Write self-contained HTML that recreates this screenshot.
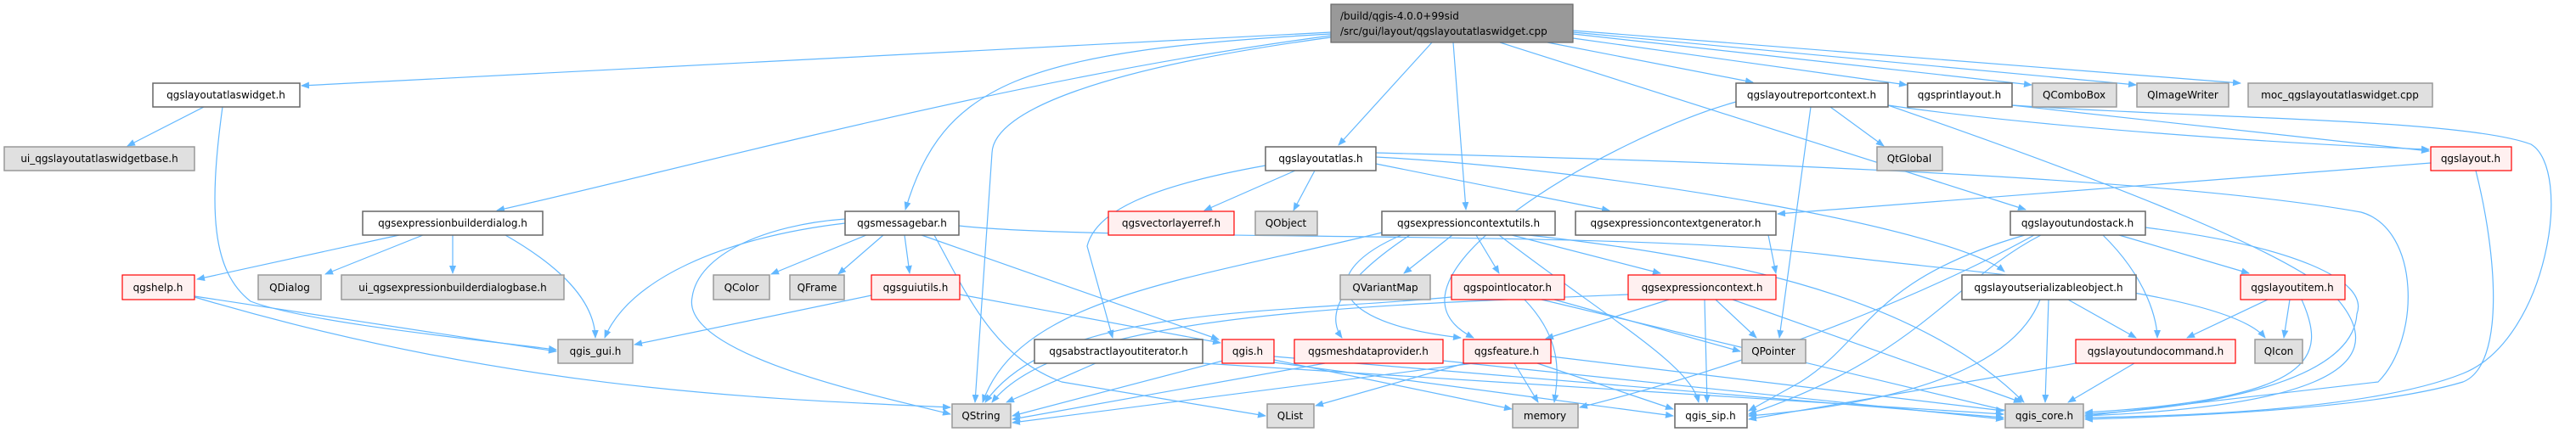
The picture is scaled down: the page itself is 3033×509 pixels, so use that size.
<!DOCTYPE html>
<html><head><meta charset="utf-8"><style>
html,body{margin:0;padding:0;background:#fff}
svg{display:block}
text{font-family:"DejaVu Sans","Liberation Sans",sans-serif;font-size:12px;fill:#000}
.w{fill:#fff;stroke:#666;stroke-width:1.5}
.g{fill:#e0e0e0;stroke:#999;stroke-width:1.5}
.r{fill:#fff0f0;stroke:#f00;stroke-width:1.2}
.e{fill:none;stroke:#63b8ff;stroke-width:1.2}
</style></head><body>
<svg width="3033" height="509" viewBox="0 0 3033 509" xmlns="http://www.w3.org/2000/svg">
<defs><marker id="a" markerWidth="10" markerHeight="8" refX="9" refY="4" orient="auto" markerUnits="userSpaceOnUse"><path d="M0,0 L10,4 L0,8 z" fill="#63b8ff"/></marker></defs>
<g class="e" marker-end="url(#a)">
<path d="M1567,38 L355,101"/>
<path d="M1567,42 C1200,90 800,200 585,248"/>
<path d="M1567,40 C1200,60 1110,100 1066,247"/>
<path d="M1567,44 C1300,80 1170,130 1168,180 L1148,474"/>
<path d="M1686,50 L1576,171"/>
<path d="M1711,50 L1726,247"/>
<path d="M1766,50 L2385,247"/>
<path d="M1822,50 L2064,97"/>
<path d="M1852,45 L2245,100"/>
<path d="M1852,40 L2392,100"/>
<path d="M1852,38 L2515,100"/>
<path d="M1852,36 L2638,98"/>
<path d="M240,126 L150,172"/>
<path d="M262,126 C245,250 250,320 295,355 C360,380 560,400 655,412"/>
<path d="M470,277 L232,329"/>
<path d="M498,277 L383,323"/>
<path d="M533,277 L533,322"/>
<path d="M595,277 C670,320 700,360 701,398"/>
<path d="M229,349 L655,414"/>
<path d="M229,350 C600,460 900,470 1119,480"/>
<path d="M1020,277 L908,323"/>
<path d="M1040,277 L987,323"/>
<path d="M1065,277 L1071,322"/>
<path d="M1085,277 L1435,400"/>
<path d="M1100,277 C1140,350 1170,420 1250,450 L1490,490"/>
<path d="M995,258 C900,265 822,300 815,350 C800,420 1050,470 1119,488"/>
<path d="M995,263 C850,280 740,330 712,398"/>
<path d="M1026,348 L747,406"/>
<path d="M1129,266 C1300,285 1900,270 2150,300 C2300,320 2620,340 2667,398"/>
<path d="M1130,347 L1437,404"/>
<path d="M1620,180 C1800,185 2500,200 2780,250 C2850,270 2850,400 2800,450 L2455,490"/>
<path d="M1620,185 C1900,200 2300,270 2360,320"/>
<path d="M1620,193 L1895,248"/>
<path d="M1525,201 L1418,248"/>
<path d="M1548,201 L1523,248"/>
<path d="M1490,195 C1350,220 1290,250 1280,290 L1310,398"/>
<path d="M1627,274 C1400,330 1200,350 1157,474"/>
<path d="M1710,277 L1653,322"/>
<path d="M1738,277 L1765,322"/>
<path d="M1780,277 L1955,322"/>
<path d="M1650,277 C1550,320 1560,380 1720,398"/>
<path d="M1660,277 C1580,330 1560,370 1580,398"/>
<path d="M1765,277 C1900,380 1990,430 2000,474"/>
<path d="M1800,277 C2000,300 2250,340 2383,474"/>
<path d="M2082,277 L2091,322"/>
<path d="M1917,347 C1600,360 1250,370 1168,474"/>
<path d="M1965,353 L1820,399"/>
<path d="M2007,353 L2010,474"/>
<path d="M2020,353 L2068,398"/>
<path d="M2040,353 L2380,474"/>
<path d="M1709,350 C1500,370 1240,360 1160,474"/>
<path d="M1795,353 C1840,400 1835,440 1830,474"/>
<path d="M1815,353 L2380,488"/>
<path d="M1830,353 L2049,414"/>
<path d="M1290,428 L1185,474"/>
<path d="M1416,428 L2359,488"/>
<path d="M1440,425 L1192,490"/>
<path d="M1500,424 L1780,482"/>
<path d="M1500,427 L1970,490"/>
<path d="M1500,420 L2359,492"/>
<path d="M1560,428 L1192,494"/>
<path d="M1699,425 L2359,494"/>
<path d="M1735,428 L1192,498"/>
<path d="M1725,428 L1549,478"/>
<path d="M1783,428 L1811,474"/>
<path d="M1810,428 L1970,482"/>
<path d="M1826,420 L2359,484"/>
<path d="M2044,120 C1900,160 1600,330 1735,398"/>
<path d="M2155,126 L2218,172"/>
<path d="M2132,126 L2095,398"/>
<path d="M2223,124 C2400,150 2700,170 2860,176"/>
<path d="M2223,124 C2500,220 2700,300 2750,350 C2830,440 2700,480 2455,490"/>
<path d="M2369,124 L2860,178"/>
<path d="M2369,124 C2600,140 2900,140 2980,170 C3030,200 3000,400 2900,440 C2800,480 2600,490 2455,492"/>
<path d="M2862,192 L2093,252"/>
<path d="M2915,201 C2940,300 2950,430 2900,450 C2800,480 2600,490 2455,494"/>
<path d="M2495,277 L2648,322"/>
<path d="M2476,277 C2530,330 2540,380 2540,398"/>
<path d="M2384,277 C2200,330 2200,400 2120,450 L2059,484"/>
<path d="M2403,277 C2300,330 2260,420 2059,488"/>
<path d="M2526,268 C2700,290 2790,330 2775,370 C2770,450 2600,480 2455,488"/>
<path d="M2395,277 C2300,330 2100,420 1860,480"/>
<path d="M2435,353 L2515,398"/>
<path d="M2412,353 L2408,474"/>
<path d="M2402,353 C2380,410 2300,470 2059,490"/>
<path d="M2670,353 L2575,398"/>
<path d="M2696,353 L2689,398"/>
<path d="M2710,353 C2740,420 2730,470 2455,486"/>
<path d="M2513,428 L2435,474"/>
<path d="M2444,428 L2059,494"/>
</g>
<g>
<rect class="r" x="1567" y="5" width="285" height="45" style="fill:#999;stroke:#666"/>
<text x="1578" y="23">/build/qgis-4.0.0+99sid</text>
<text x="1578" y="41">/src/gui/layout/qgslayoutatlaswidget.cpp</text>
</g>
<g text-anchor="middle">
<rect class="w" x="180" y="98" width="173" height="28"/><text x="266" y="116">qgslayoutatlaswidget.h</text>
<rect class="g" x="5" y="173" width="224" height="28"/><text x="117" y="191">ui_qgslayoutatlaswidgetbase.h</text>
<rect class="w" x="427" y="249" width="212" height="28"/><text x="533" y="267">qgsexpressionbuilderdialog.h</text>
<rect class="r" x="144" y="324" width="85" height="29"/><text x="186" y="343">qgshelp.h</text>
<rect class="g" x="304" y="324" width="74" height="29"/><text x="341" y="343">QDialog</text>
<rect class="g" x="402" y="324" width="262" height="29"/><text x="533" y="343">ui_qgsexpressionbuilderdialogbase.h</text>
<rect class="g" x="657" y="400" width="88" height="28"/><text x="701" y="418">qgis_gui.h</text>
<rect class="g" x="840" y="324" width="66" height="29"/><text x="873" y="343">QColor</text>
<rect class="g" x="930" y="324" width="64" height="29"/><text x="962" y="343">QFrame</text>
<rect class="w" x="995" y="249" width="134" height="28"/><text x="1062" y="267">qgsmessagebar.h</text>
<rect class="r" x="1026" y="324" width="104" height="29"/><text x="1078" y="343">qgsguiutils.h</text>
<rect class="g" x="1121" y="476" width="69" height="28"/><text x="1155" y="494">QString</text>
<rect class="w" x="1490" y="173" width="130" height="28"/><text x="1555" y="191">qgslayoutatlas.h</text>
<rect class="r" x="1305" y="249" width="148" height="28"/><text x="1379" y="267">qgsvectorlayerref.h</text>
<rect class="g" x="1478" y="249" width="73" height="28"/><text x="1514" y="267">QObject</text>
<rect class="w" x="1627" y="249" width="204" height="28"/><text x="1729" y="267">qgsexpressioncontextutils.h</text>
<rect class="w" x="1855" y="249" width="236" height="28"/><text x="1973" y="267">qgsexpressioncontextgenerator.h</text>
<rect class="g" x="1578" y="324" width="106" height="29"/><text x="1631" y="343">QVariantMap</text>
<rect class="r" x="1709" y="324" width="133" height="29"/><text x="1775" y="343">qgspointlocator.h</text>
<rect class="r" x="1917" y="324" width="174" height="29"/><text x="2004" y="343">qgsexpressioncontext.h</text>
<rect class="w" x="1218" y="400" width="198" height="28"/><text x="1317" y="418">qgsabstractlayoutiterator.h</text>
<rect class="r" x="1439" y="400" width="61" height="28"/><text x="1469" y="418">qgis.h</text>
<rect class="r" x="1524" y="400" width="175" height="28"/><text x="1611" y="418">qgsmeshdataprovider.h</text>
<rect class="r" x="1723" y="400" width="103" height="28"/><text x="1774" y="418">qgsfeature.h</text>
<rect class="g" x="1492" y="476" width="55" height="28"/><text x="1519" y="494">QList</text>
<rect class="g" x="1781" y="476" width="77" height="28"/><text x="1819" y="494">memory</text>
<rect class="w" x="1972" y="476" width="85" height="28"/><text x="2014" y="494">qgis_sip.h</text>
<rect class="w" x="2044" y="98" width="179" height="28"/><text x="2133" y="116">qgslayoutreportcontext.h</text>
<rect class="w" x="2246" y="98" width="123" height="28"/><text x="2307" y="116">qgsprintlayout.h</text>
<rect class="g" x="2393" y="98" width="99" height="28"/><text x="2442" y="116">QComboBox</text>
<rect class="g" x="2516" y="98" width="108" height="28"/><text x="2570" y="116">QImageWriter</text>
<rect class="g" x="2647" y="98" width="217" height="28"/><text x="2755" y="116">moc_qgslayoutatlaswidget.cpp</text>
<rect class="g" x="2210" y="173" width="77" height="28"/><text x="2248" y="191">QtGlobal</text>
<rect class="r" x="2862" y="173" width="95" height="28"/><text x="2909" y="191">qgslayout.h</text>
<rect class="w" x="2367" y="249" width="159" height="28"/><text x="2446" y="267">qgslayoutundostack.h</text>
<rect class="w" x="2310" y="324" width="205" height="29"/><text x="2412" y="343">qgslayoutserializableobject.h</text>
<rect class="r" x="2638" y="324" width="123" height="29"/><text x="2699" y="343">qgslayoutitem.h</text>
<rect class="g" x="2051" y="400" width="75" height="28"/><text x="2088" y="418">QPointer</text>
<rect class="r" x="2444" y="400" width="188" height="28"/><text x="2538" y="418">qgslayoutundocommand.h</text>
<rect class="g" x="2655" y="400" width="56" height="28"/><text x="2683" y="418">QIcon</text>
<rect class="g" x="2361" y="476" width="92" height="28"/><text x="2407" y="494">qgis_core.h</text>
</g>
</svg>
</body></html>
